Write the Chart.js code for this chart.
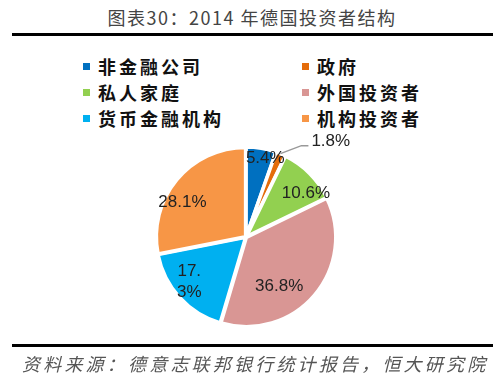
<!DOCTYPE html>
<html><head><meta charset="utf-8">
<script src="https://cdn.jsdelivr.net/npm/chart.js@4.4.1/dist/chart.umd.min.js"></script>
<style>
html,body{margin:0;padding:0;background:#fff;}
#wrap{position:relative;width:504px;height:387px;overflow:hidden;font-family:"Noto Sans CJK SC",sans-serif;}
#title{position:absolute;left:0;top:4px;width:504px;text-align:center;font-size:18px;letter-spacing:1.5px;color:#444;}
.rule{position:absolute;left:12px;width:481px;background:#000;}
#legend{position:absolute;left:0;top:0;}
.li{position:absolute;font-size:18px;font-weight:600;letter-spacing:3px;color:#111;line-height:20px;white-space:nowrap;}
.li i{position:absolute;width:7px;height:7px;left:-15px;top:7px;}
#foot{position:absolute;left:22px;top:350px;font-size:18px;font-style:italic;letter-spacing:3.2px;color:#555;white-space:nowrap;}
canvas{position:absolute;left:0;top:0;}
</style></head>
<body><div id="wrap">
<div id="title">图表30：2014 年德国投资者结构</div>
<div class="rule" style="top:33px;height:3px"></div>
<div id="legend"></div>
<canvas id="c" width="504" height="387"></canvas>
<div class="rule" style="top:344px;height:3px"></div>
<div id="foot">资料来源：德意志联邦银行统计报告，恒大研究院</div>
</div>
<script>
const categories = ["非金融公司","政府","私人家庭","外国投资者","货币金融机构","机构投资者"];
const values = [5.4, 1.8, 10.6, 36.8, 17.3, 28.1];
const colors = ["#0070C0","#E46C0A","#92D050","#D99694","#00B0F0","#F79646"];
const wrapIdx = [4];

// legend (two columns)
const lg = document.getElementById('legend');
categories.forEach((c,i)=>{
  const d = document.createElement('div');
  d.className='li';
  const col = i%2, row = Math.floor(i/2);
  d.style.left = (col? 317 : 98)+'px';
  d.style.top = (56 + row*26)+'px';
  d.innerHTML = '<i style="background:'+colors[i]+'"></i>'+c;
  lg.appendChild(d);
});

// label placement (Excel "best fit" style): radial fraction and angle shift (deg) per slice
const placement = {radius:[0.91,1,0.83,0.67,0.81,0.81], shift:[4,0,9,16,4,-11]};

const labelPlugin = {
  id:'pieLabels',
  afterDatasetsDraw(chart){
    const ctx = chart.ctx;
    const meta = chart.getDatasetMeta(0);
    ctx.save();
    ctx.font = '17px "Liberation Sans Narrow", "Liberation Sans", Arial, sans-serif';
    ctx.fillStyle = '#222';
    ctx.textAlign='center';
    ctx.textBaseline='middle';
    meta.data.forEach((arc,i)=>{
      const p = arc.getProps(['x','y','startAngle','endAngle','outerRadius']);
      const mid = (p.startAngle+p.endAngle)/2;
      const txt = values[i].toFixed(1)+'%';
      if (values[i] < 3) {
        const ex = p.x + Math.cos(mid)*p.outerRadius, ey = p.y + Math.sin(mid)*p.outerRadius;
        const bx = ex + 21, by = ey - 9;
        ctx.strokeStyle='#999'; ctx.lineWidth=1.5;
        ctx.beginPath(); ctx.moveTo(ex,ey-1); ctx.lineTo(bx,by); ctx.lineTo(bx+7,by); ctx.stroke();
        ctx.textAlign='left';
        ctx.fillText(txt, bx+10, by-4);
        ctx.textAlign='center';
        return;
      }
      const a = mid + placement.shift[i]*Math.PI/180;
      const r = p.outerRadius*placement.radius[i];
      const lx = p.x + Math.cos(a)*r, ly = p.y + Math.sin(a)*r;
      if (wrapIdx.includes(i)) {
        ctx.fillText(txt.slice(0,3), lx, ly-10.5);
        ctx.fillText(txt.slice(3), lx, ly+10.5);
      } else ctx.fillText(txt, lx, ly);
    });
    ctx.restore();
  }
};

new Chart(document.getElementById('c'),{
  type:'pie',
  data:{labels:categories,datasets:[{data:values,backgroundColor:colors,borderColor:'#fff',borderWidth:3.5,offset:2}]},
  options:{
    responsive:false,animation:false,
    layout:{padding:{left:154,right:166,top:145,bottom:58}},
    plugins:{legend:{display:false},tooltip:{enabled:false}}
  },
  plugins:[labelPlugin]
});
</script>
</body></html>
